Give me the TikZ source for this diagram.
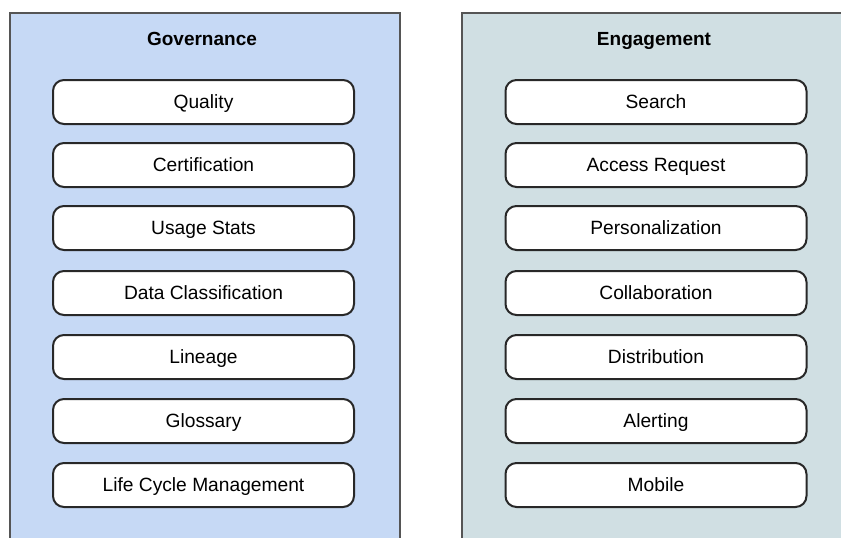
\documentclass[tikz,border=0pt]{standalone}
\usepackage{fontspec}
\setmainfont{Liberation Sans}
\definecolor{govfill}{RGB}{198,217,245}
\definecolor{engfill}{RGB}{208,223,227}
\definecolor{panelline}{RGB}{85,85,85}
\definecolor{boxline}{RGB}{40,40,40}
\begin{document}
\begin{tikzpicture}[x=1pt,y=-1pt,
  itembox/.style={draw=boxline, line width=2pt, fill=white, rounded corners=11pt,
    minimum width=301pt, minimum height=44pt, inner sep=0pt,
    text height=13.8pt, text depth=0pt,
    font=\fontsize{19.2}{23}\selectfont},
  paneltitle/.style={font=\fontsize{19}{23}\selectfont\bfseries,
    text height=13.8pt, text depth=0pt, inner sep=0pt}]
\clip (0,0) rectangle (841,538);
\fill[white] (0,0) rectangle (841,538);
% panels
\fill[govfill] (10,13) rectangle (400,560);
\draw[panelline, line width=1.5pt] (10,560) -- (10,13) -- (400,13) -- (400,560);
\fill[engfill] (462,13) rectangle (860,560);
\draw[panelline, line width=1.5pt] (462,560) -- (462,13) -- (860,13);
% titles
\node[paneltitle] (gov) at (202,39) {Governance};
\node[paneltitle] (eng) at (654,39) {Engagement};
% left items
\node[itembox] (g1) at (203.5,102) {Quality};
\node[itembox] (g2) at (203.5,165) {Certification};
\node[itembox] (g3) at (203.5,228) {Usage Stats};
\node[itembox] (g4) at (203.5,293) {Data Classification};
\node[itembox] (g5) at (203.5,357) {Lineage};
\node[itembox] (g6) at (203.5,421) {Glossary};
\node[itembox] (g7) at (203.5,485) {Life Cycle Management};
% right items
\node[itembox] (e1) at (656,102) {Search};
\node[itembox] (e2) at (656,165) {Access Request};
\node[itembox] (e3) at (656,228) {Personalization};
\node[itembox] (e4) at (656,293) {Collaboration};
\node[itembox] (e5) at (656,357) {Distribution};
\node[itembox] (e6) at (656,421) {Alerting};
\node[itembox] (e7) at (656,485) {Mobile};
\end{tikzpicture}
\end{document}
